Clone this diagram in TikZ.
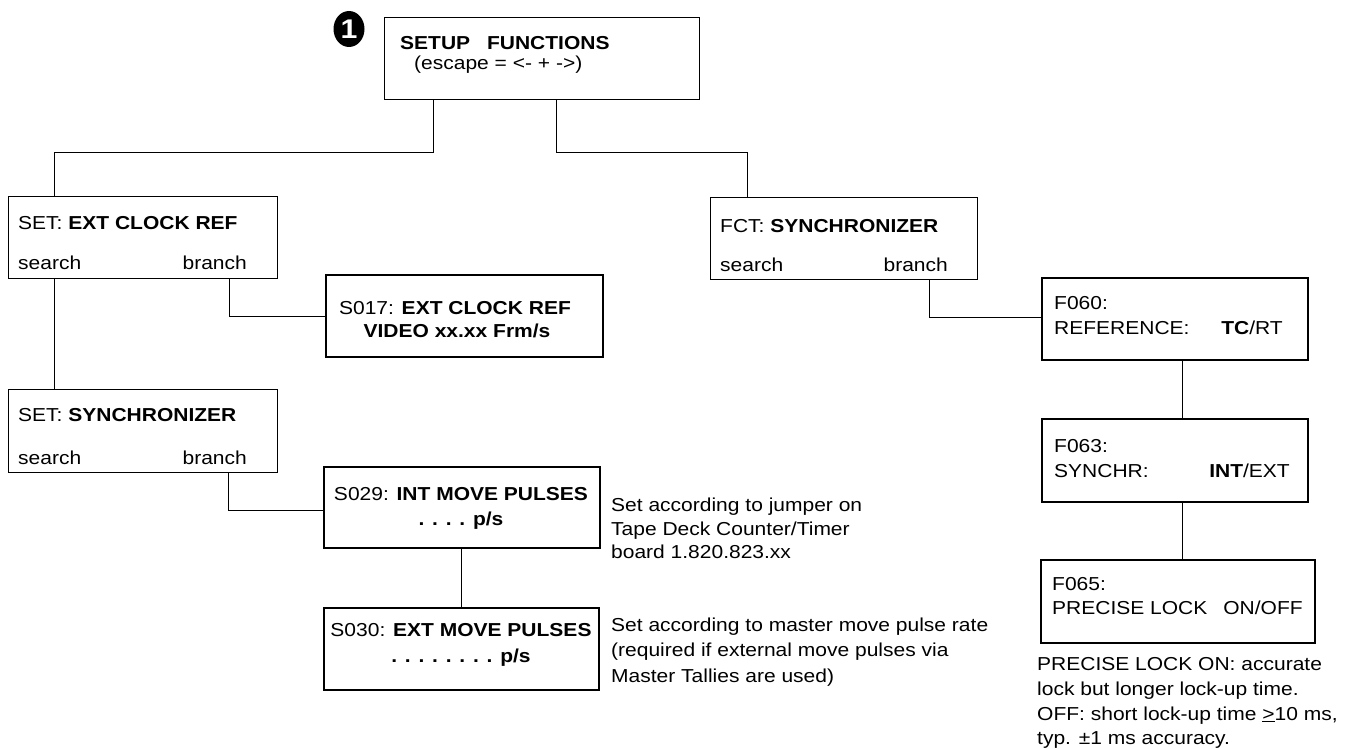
\documentclass[tikz,border=0pt]{standalone}
\usepackage{fontspec}
\setmainfont[FakeStretch=1.12]{Liberation Sans}
\usetikzlibrary{shapes.geometric}
\begin{document}
\begin{tikzpicture}[x=1pt,y=-1pt,
  font=\fontsize{18.75}{24}\selectfont,
  thinbox/.style={draw, line width=1.1pt, anchor=north west, inner sep=0pt},
  thickbox/.style={draw, line width=2.2pt, anchor=north west, inner sep=0pt},
  conn/.style={line width=0.9pt},
  txt/.style={anchor=base west, inner sep=0pt},
  rtxt/.style={anchor=base east, inner sep=0pt},
  ctxt/.style={anchor=base, inner sep=0pt},
]
\useasboundingbox (0,0) rectangle (1349,749);

% badge
\node[ellipse, fill=black, minimum width=31pt, minimum height=36pt, inner sep=0pt,
      text=white, font=\fontsize{27}{27}\selectfont\bfseries] (badge) at (349,29) {1};

% boxes
\node[thinbox, minimum width=315pt, minimum height=82pt] (top) at (384,17) {};
\node[thinbox, minimum width=269pt, minimum height=82pt] (setext) at (8,196) {};
\node[thickbox, minimum width=277pt, minimum height=82pt] (s017) at (325,274) {};
\node[thinbox, minimum width=269pt, minimum height=83pt] (setsync) at (8,389) {};
\node[thickbox, minimum width=276pt, minimum height=81pt] (s029) at (323,466) {};
\node[thickbox, minimum width=275pt, minimum height=82pt] (s030) at (323,607) {};
\node[thinbox, minimum width=267pt, minimum height=82pt] (fct) at (710,197) {};
\node[thickbox, minimum width=266pt, minimum height=82pt] (f060) at (1041,277) {};
\node[thickbox, minimum width=266pt, minimum height=83pt] (f063) at (1041,418) {};
\node[thickbox, minimum width=274pt, minimum height=83pt] (f065) at (1040,559) {};

% texts
\node[txt] (t1) at (400,50) {\bfseries SETUP\hspace{0.9em}FUNCTIONS};
\node[txt] (t2) at (414,70) {(escape = <- + ->)};

\node[txt] (a1) at (18,229) {SET: \textbf{EXT CLOCK REF}};
\node[txt] (a2) at (18,269) {search};
\node[rtxt] (a3) at (247,269) {branch};

\node[ctxt] (b1) at (455,314) {S017: \textbf{EXT CLOCK REF}};
\node[ctxt] (b2) at (457,337) {\textbf{VIDEO xx.xx Frm/s}};

\node[txt] (c1) at (18,421) {SET: \textbf{SYNCHRONIZER}};
\node[txt] (c2) at (18,464) {search};
\node[rtxt] (c3) at (247,464) {branch};

\node[ctxt] (d1) at (461,500) {S029: \textbf{INT MOVE PULSES}};
\node[ctxt] (d2) at (461,525) {\textbf{. . . . p/s}};

\node[ctxt] (e1) at (461,636) {S030: \textbf{EXT MOVE PULSES}};
\node[ctxt] (e2) at (461,662) {\textbf{. . . . . . . . p/s}};

\node[txt] (n1) at (611,511) {Set according to jumper on};
\node[txt] (n2) at (611,535) {Tape Deck Counter/Timer};
\node[txt] (n3) at (611,558) {board 1.820.823.xx};

\node[txt] (m1) at (611,631) {Set according to master move pulse rate};
\node[txt] (m2) at (611,656) {(required if external move pulses via};
\node[txt] (m3) at (611,682) {Master Tallies are used)};

\node[txt] (f1) at (720,232) {FCT: \textbf{SYNCHRONIZER}};
\node[txt] (f2) at (720,271) {search};
\node[rtxt] (f3) at (948,271) {branch};

\node[txt] (g1) at (1054,309) {F060:};
\node[txt] (g2) at (1054,334) {REFERENCE:};
\node[rtxt] (g3) at (1283,334) {\textbf{TC}/RT};

\node[txt] (h1) at (1054,452) {F063:};
\node[txt] (h2) at (1054,477) {SYNCHR:};
\node[rtxt] (h3) at (1290,477) {\textbf{INT}/EXT};

\node[txt] (i1) at (1052,590) {F065:};
\node[txt] (i2) at (1052,614) {PRECISE LOCK\hspace{0.85em}ON/OFF};

\node[txt] (p1) at (1037,670) {PRECISE LOCK ON: accurate};
\node[txt] (p2) at (1037,695) {lock but longer lock-up time.};
\node[txt] (p3) at (1037,720) {OFF: short lock-up time \underline{>}10 ms,};
\node[txt] (p4) at (1037,744) {typ. ±1 ms accuracy.};

% connectors
\draw[conn] (top.south -| 433,0) -- (433,152) -- (54,152) -- (setext.north -| 54,0);
\draw[conn] (top.south -| 556,0) -- (556,152) -- (747,152) -- (fct.north -| 747,0);
\draw[conn] (setext.south -| 54,0) -- (setsync.north -| 54,0);
\draw[conn] (setext.south -| 229,0) -- (229,316) -- (s017.west |- 0,316);
\draw[conn] (setsync.south -| 228,0) -- (228,510) -- (s029.west |- 0,510);
\draw[conn] (s029.south -| 461,0) -- (s030.north -| 461,0);
\draw[conn] (fct.south -| 929,0) -- (929,317) -- (f060.west |- 0,317);
\draw[conn] (f060.south -| 1182,0) -- (f063.north -| 1182,0);
\draw[conn] (f063.south -| 1182,0) -- (f065.north -| 1182,0);
\end{tikzpicture}
\end{document}
